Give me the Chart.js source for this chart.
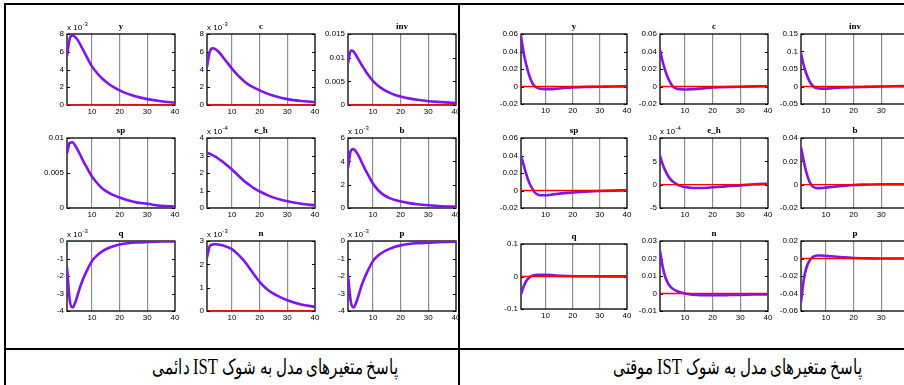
<!DOCTYPE html>
<html>
<head>
<meta charset="utf-8">
<script src="https://cdn.jsdelivr.net/npm/chart.js@4.4.0/dist/chart.umd.min.js"></script>
<style>
html, body { margin: 0; padding: 0; background: #fff; width: 904px; height: 385px; overflow: hidden; position: relative; }
canvas { position: absolute; }
.rule { position: absolute; background: #000; }
.cap { position: absolute; top: 352px; font-family: "Liberation Serif", "DejaVu Serif", serif; font-size: 21px; line-height: 30px; direction: rtl; white-space: nowrap; color: #000; transform: scaleX(0.72); transform-origin: right center; }
.cap span { font-size: 23px; }
</style>
</head>
<body>
<div class="rule" style="left:4px;top:3px;width:2px;height:382px"></div>
<div class="rule" style="left:4px;top:3px;width:900px;height:2px"></div>
<div class="rule" style="left:458px;top:3px;width:2px;height:382px"></div>
<div class="rule" style="left:4px;top:348px;width:900px;height:2px"></div>
<div class="cap" style="right:506px">پاسخ متغیرهای مدل به شوک <span>IST</span> دائمی</div>
<div class="cap" style="right:42px">پاسخ متغیرهای مدل به شوک <span>IST</span> موقتی</div>
<script>
// horizon (quarters) shared by every panel
const periods = [1, 2, 3, 4, 5, 6, 7, 8, 10, 12, 14, 16, 18, 20, 23, 26, 30, 35, 40];
const xTicks = [10, 20, 30, 40];
const titles = ['y', 'c', 'inv', 'sp', 'e_h', 'b', 'q', 'n', 'p'];

// permanent IST shock (left block), in the units of each axis (x10^-3 / x10^-4 where noted)
const permY   = [5.5, 7.5, 7.85, 7.65, 7.25, 6.7, 6.1, 5.5, 4.35, 3.55, 2.9, 2.4, 1.98, 1.65, 1.25, 0.95, 0.66, 0.42, 0.27];
const permC   = [4.3, 6.0, 6.4, 6.3, 6.05, 5.7, 5.3, 4.9, 4.1, 3.4, 2.8, 2.3, 1.95, 1.65, 1.25, 0.95, 0.66, 0.45, 0.32];
const permInv = [0.0088, 0.0115, 0.0113, 0.0104, 0.0094, 0.0084, 0.0075, 0.0066, 0.0051, 0.0040, 0.0032, 0.0026, 0.0021, 0.0018, 0.0014, 0.0011, 0.0008, 0.0006, 0.0004];
const permSp  = [0.0078, 0.0093, 0.0094, 0.0089, 0.0082, 0.0074, 0.0066, 0.0059, 0.0045, 0.0035, 0.0027, 0.0022, 0.0018, 0.0015, 0.0011, 0.0008, 0.0006, 0.0003, 0.0002];
const permEh  = [3.15, 3.1, 3.02, 2.93, 2.83, 2.72, 2.6, 2.47, 2.2, 1.9, 1.6, 1.35, 1.12, 0.95, 0.72, 0.55, 0.38, 0.24, 0.15];
const permB   = [3.4, 4.9, 5.05, 4.8, 4.4, 3.9, 3.4, 2.95, 2.1, 1.5, 1.1, 0.85, 0.68, 0.57, 0.42, 0.32, 0.23, 0.15, 0.1];
const permQ   = [-1.5, -3.4, -3.8, -3.5, -3.0, -2.5, -2.1, -1.75, -1.15, -0.8, -0.56, -0.4, -0.28, -0.2, -0.13, -0.09, -0.06, -0.03, -0.02];
const permN   = [2.3, 2.78, 2.85, 2.86, 2.85, 2.83, 2.8, 2.76, 2.65, 2.45, 2.2, 1.9, 1.56, 1.25, 0.9, 0.68, 0.46, 0.28, 0.18];
const permP   = [-1.95, -3.45, -3.8, -3.5, -3.0, -2.5, -2.1, -1.75, -1.15, -0.82, -0.6, -0.45, -0.33, -0.25, -0.17, -0.13, -0.1, -0.06, -0.04];

// temporary IST shock (right block)
const tempY   = [0.058, 0.038, 0.024, 0.013, 0.005, 0.0005, -0.0015, -0.0025, -0.003, -0.003, -0.0025, -0.002, -0.0015, -0.001, -0.0007, -0.0004, -0.0002, 0.0, 0.0003];
const tempC   = [0.042, 0.028, 0.017, 0.009, 0.003, -0.001, -0.0025, -0.003, -0.0035, -0.0032, -0.0028, -0.0022, -0.0017, -0.0012, -0.0008, -0.0005, -0.0002, 0.0001, 0.0003];
const tempInv = [0.095, 0.06, 0.035, 0.016, 0.004, -0.003, -0.005, -0.006, -0.006, -0.005, -0.004, -0.003, -0.0025, -0.002, -0.0013, -0.0008, 0.0, 0.0008, 0.001];
const tempSp  = [0.04, 0.029, 0.018, 0.009, 0.003, -0.002, -0.0045, -0.0055, -0.0055, -0.0048, -0.004, -0.0033, -0.0027, -0.0022, -0.0016, -0.0011, -0.0006, -0.0001, 0.0003];
const tempEh  = [6.2, 4.3, 2.9, 1.8, 1.0, 0.5, 0.1, -0.2, -0.5, -0.65, -0.7, -0.7, -0.65, -0.55, -0.45, -0.3, -0.15, 0.1, 0.2];
const tempB   = [0.032, 0.02, 0.01, 0.003, -0.001, -0.0025, -0.003, -0.003, -0.0025, -0.002, -0.0015, -0.001, -0.0006, -0.0003, 0.0, 0.0002, 0.0003, 0.0003, 0.0003];
const tempQ   = [-0.055, -0.03, -0.013, -0.003, 0.002, 0.004, 0.005, 0.005, 0.005, 0.0045, 0.003, 0.002, 0.0015, 0.001, 0.0008, 0.0006, 0.0005, 0.0005, 0.0005];
const tempN   = [0.0245, 0.015, 0.009, 0.0055, 0.0035, 0.0023, 0.0015, 0.0008, 0.0, -0.0005, -0.0008, -0.001, -0.001, -0.001, -0.001, -0.0009, -0.0008, -0.0006, -0.0005];
const tempP   = [-0.05, -0.024, -0.01, -0.003, 0.001, 0.003, 0.0035, 0.0035, 0.003, 0.0025, 0.002, 0.0015, 0.001, 0.0006, 0.0003, 0.0001, 0.0, 0.0, 0.0];

// y tick labels of each panel, and the axis exponent (0 = none)
const permTicks = [[0, 2, 4, 6, 8], [0, 2, 4, 6, 8], [0, 0.005, 0.01, 0.015], [0, 0.005, 0.01], [0, 1, 2, 3, 4], [0, 2, 4, 6], [-4, -3, -2, -1, 0], [0, 1, 2, 3], [-4, -3, -2, -1, 0]];
const permExp = [-3, -3, 0, 0, -4, -3, -3, -3, -3];
const tempTicks = [[-0.02, 0, 0.02, 0.04, 0.06], [-0.02, 0, 0.02, 0.04, 0.06], [-0.05, 0, 0.05, 0.1, 0.15], [-0.02, 0, 0.02, 0.04, 0.06], [-5, 0, 5, 10], [-0.02, 0, 0.02, 0.04], [-0.1, 0, 0.1], [-0.01, 0, 0.01, 0.02, 0.03], [-0.06, -0.04, -0.02, 0, 0.02]];
const tempExp = [0, 0, 0, 0, -4, 0, 0, 0, 0];

const permSeries = [permY, permC, permInv, permSp, permEh, permB, permQ, permN, permP];
const tempSeries = [tempY, tempC, tempInv, tempSp, tempEh, tempB, tempQ, tempN, tempP];

// plot boxes on the page: [left, top, width, height]
const permBoxes = [
  [67, 34, 108, 71], [207, 34, 108, 71], [348, 34, 108, 71],
  [67, 138, 108, 70], [207, 138, 108, 70], [348, 138, 108, 70],
  [67, 241, 108, 70], [207, 241, 108, 70], [348, 241, 108, 70]
];
const tempBoxes = [
  [521, 34, 106, 70], [660, 34, 108, 70], [801, 34, 108, 70],
  [521, 138, 106, 70], [660, 138, 108, 70], [801, 138, 108, 70],
  [521, 244, 106, 65], [660, 241, 108, 70], [801, 241, 108, 70]
];

const SANS = '"Liberation Sans", Arial, sans-serif';
const SERIF = '"Liberation Serif", "Times New Roman", serif';

function fmt(v) {
  return String(+v.toFixed(6));
}

function frame(title, exp) {
  return {
    id: 'frame',
    beforeDatasetsDraw(chart) {
      const a = chart.chartArea, ctx = chart.ctx;
      ctx.save();
      ctx.strokeStyle = '#000';
      ctx.lineWidth = 1.3;
      ctx.strokeRect(a.left, a.top, a.right - a.left, a.bottom - a.top);
      ctx.lineWidth = 1;
      chart.scales.y.ticks.forEach(t => {
        const py = Math.round(chart.scales.y.getPixelForValue(t.value)) + 0.5;
        ctx.beginPath();
        ctx.moveTo(a.right - 3, py); ctx.lineTo(a.right, py);
        ctx.moveTo(a.left, py); ctx.lineTo(a.left + 3, py);
        ctx.stroke();
      });
      ctx.restore();
    },
    afterDraw(chart) {
      const a = chart.chartArea, ctx = chart.ctx;
      ctx.save();
      ctx.fillStyle = '#000';
      ctx.textBaseline = 'alphabetic';
      ctx.textAlign = 'center';
      ctx.font = 'bold 9px ' + SERIF;
      ctx.fillText(title, (a.left + a.right) / 2, a.top - 5);
      if (exp) {
        ctx.textAlign = 'left';
        ctx.font = '8px ' + SANS;
        ctx.fillText('x 10', a.left, a.top - 4);
        const w = ctx.measureText('x 10').width;
        ctx.font = '6px ' + SANS;
        ctx.fillText(String(exp), a.left + w + 0.5, a.top - 8);
      }
      ctx.restore();
    }
  };
}

function makeChart(box, values, yTicks, exp, title) {
  const padL = 40, padT = 20, padR = 8, padB = 16;
  const w = box[2] + padL + padR, h = box[3] + padT + padB;
  const cv = document.createElement('canvas');
  cv.width = w; cv.height = h;
  cv.style.left = (box[0] - padL) + 'px';
  cv.style.top = (box[1] - padT) + 'px';
  cv.style.width = w + 'px';
  cv.style.height = h + 'px';
  document.body.appendChild(cv);

  const noPad = s => { s.paddingLeft = 0; s.paddingRight = 0; s.paddingTop = 0; s.paddingBottom = 0; };

  return new Chart(cv, {
    type: 'line',
    data: {
      datasets: [
        {
          data: [{ x: periods[0], y: 0 }, { x: periods[periods.length - 1], y: 0 }],
          borderColor: '#ff0000', borderWidth: 1.3, pointRadius: 0
        },
        {
          data: periods.map((p, i) => ({ x: p, y: values[i] })),
          borderColor: '#7f14ec', borderWidth: 2.6, pointRadius: 0,
          cubicInterpolationMode: 'monotone'
        }
      ]
    },
    options: {
      responsive: false,
      animation: false,
      events: [],
      layout: { padding: { left: 0, top: padT, right: padR, bottom: 0 } },
      plugins: { legend: { display: false }, tooltip: { enabled: false }, title: { display: false } },
      scales: {
        x: {
          type: 'linear', min: 1, max: 40,
          afterBuildTicks: s => { s.ticks = xTicks.map(v => ({ value: v })); },
          afterFit: s => { s.height = padB; noPad(s); },
          grid: {
            drawTicks: false, lineWidth: 1.2,
            color: c => (c.tick && c.tick.value < 40) ? '#8e8e8e' : 'rgba(0,0,0,0)'
          },
          border: { display: false },
          ticks: { padding: 2, color: '#000', font: { family: SANS, size: 8 }, maxRotation: 0, autoSkip: false }
        },
        y: {
          type: 'linear', min: yTicks[0], max: yTicks[yTicks.length - 1],
          afterBuildTicks: s => { s.ticks = yTicks.map(v => ({ value: v })); },
          afterFit: s => { s.width = padL; noPad(s); },
          grid: { display: false, drawTicks: false },
          border: { display: false },
          ticks: { padding: 3, color: '#000', font: { family: SANS, size: 8 }, autoSkip: false, callback: v => fmt(v) }
        }
      }
    },
    plugins: [frame(title, exp)]
  });
}

for (let i = 0; i < 9; i++) {
  makeChart(permBoxes[i], permSeries[i], permTicks[i], permExp[i], titles[i]);
  makeChart(tempBoxes[i], tempSeries[i], tempTicks[i], tempExp[i], titles[i]);
}
</script>
</body>
</html>
